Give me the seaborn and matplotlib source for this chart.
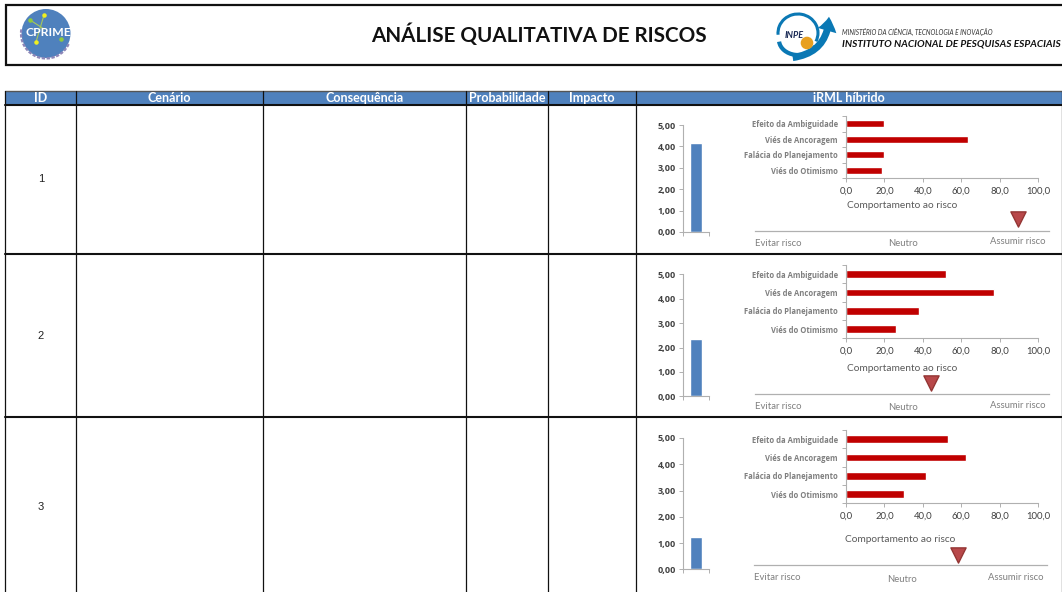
import matplotlib

matplotlib.use("Agg")
import matplotlib.pyplot as plt
from matplotlib.patches import Arc, Circle, FancyArrowPatch, Rectangle
import pandas as pd
import seaborn as sns

W, H = 1062, 592

title = "ANÁLISE QUALITATIVA DE RISCOS"
columns = ["ID", "Cenário", "Consequência", "Probabilidade", "Impacto", "iRML híbrido"]
scenario_ids = ["1", "2", "3"]
biases = ["Efeito da Ambiguidade", "Viés de Ancoragem", "Falácia do Planejamento", "Viés do Otimismo"]
bias_values = [
    [20.0, 63.5, 20.0, 19.0],
    [52.0, 77.0, 38.0, 26.0],
    [53.0, 62.5, 41.5, 30.0],
]
irml_values = [4.14, 2.36, 1.23]
risk_positions = [89.5, 59.7, 69.8]
irml_ticks = [0, 1, 2, 3, 4, 5]
bias_ticks = [0, 20, 40, 60, 80, 100]

BLUE = "#4f81bd"
RED = "#c00000"
GREY = "#7f7f7f"
LINE = "#b0b0b0"

# pixel layout of the sheet
col_x = [5, 76, 263, 466, 548, 636, 1062]
row_y = [105, 254, 417]
id_y = [179, 336, 507]
irml_box = [(125, 232), (274.3, 396.3), (438, 569.3)]
bias_box = [(116, 178), (265, 338.3), (430, 503.3)]
risk_y = [230.7, 394, 565.3]
risk_x = [(755, 1049), (755, 1049), (753.7, 1046.7)]
marker_y = [219, 382, 555]
comport_xy = [(847, 206), (847, 368.3), (845.3, 540)]
evitar_y = [243, 406.7, 577.7]
neutro_xy = [(903, 244), (903, 407.7), (901.7, 579.3)]
assumir_xy = [(1046, 242), (1046, 405.7), (1044, 577)]

sns.set_theme(style="white")
plt.rcParams["font.family"] = ["Lato", "DejaVu Sans"]


def pixel_axes(fig, left, right, top, bottom):
    return fig.add_axes([left / W, 1 - bottom / H, (right - left) / W, (bottom - top) / H])


def fmt_dec(v, places):
    return f"{v:.{places}f}".replace(".", ",")


def draw_sheet(ax):
    ax.set_xlim(0, W)
    ax.set_ylim(H, 0)
    ax.axis("off")

    ax.add_patch(Rectangle((5.5, 4.5), W, 60, fc="white", ec="#111111", lw=1.6))
    ax.text(539, 35, title, ha="center", va="center", fontsize=14.9, fontweight="bold", color="#111111")

    # table header
    ax.add_patch(Rectangle((5, 91), W - 5, 14, fc=BLUE, ec="none"))
    ax.plot([5, W], [91, 91], color="#555555", lw=1)
    for i, name in enumerate(columns):
        ax.text((col_x[i] + col_x[i + 1]) / 2, 98.3, name, ha="center", va="center",
                fontsize=9, fontweight="bold", color="white")
    for x in col_x:
        ax.plot([x - 0.5, x - 0.5], [91, H], color="#111111", lw=0.9)
    for y in row_y:
        ax.plot([5, W], [y, y], color="#111111", lw=1.5)
    for y, label in zip(id_y, scenario_ids):
        ax.text(41, y, label, ha="center", va="center", fontsize=8, family="Liberation Sans", color="#222222")


def draw_logos(ax):
    # CPRIME
    ax.add_patch(Circle((46, 33.5), 24.5, fc=BLUE, ec="none"))
    ax.add_patch(Arc((46, 33.5), 50, 50, theta1=25, theta2=190, ec="#8d86b8", lw=1.6, ls=(0, (1.5, 0.7))))
    ax.plot([44, 36], [15, 42], color="#a8c85a", lw=0.8)
    ax.plot([30, 44], [20, 29], color="#a8c85a", lw=0.8)
    ax.scatter([44, 36], [15, 42], s=5, color="#f0f020", zorder=3)
    ax.scatter([30, 61], [20, 39], s=5, color="#8fca3c", zorder=3)
    ax.text(48.5, 32, "CPRIME", ha="center", va="center", fontsize=8.8, color="white", fontweight="bold", zorder=4)

    # INPE
    ax.add_patch(Arc((798, 33), 40, 38, theta1=175, theta2=25, ec="#0a78b4", lw=2.2))
    ax.add_patch(Arc((798, 40), 38, 30, theta1=20, theta2=175, ec="#0a78b4", lw=3))
    ax.add_patch(FancyArrowPatch((790, 58), (829, 14), connectionstyle="arc3,rad=0.45", arrowstyle="simple,head_width=14,head_length=10,tail_width=5",
                                 fc="#0a78b4", ec="none"))
    ax.add_patch(Circle((807, 43), 6.3, fc="#e8a020", ec="none", zorder=4))
    ax.text(794, 36, "INPE", ha="center", va="center", fontsize=6.5, fontstyle="italic", fontweight="bold", color="#1a2a55", zorder=5)
    ax.text(842, 32, "MINISTÉRIO DA CIÊNCIA, TECNOLOGIA E INOVAÇÃO", ha="left", va="center", fontsize=4.7,
            fontstyle="italic", color="#333333")
    ax.text(842, 44, "INSTITUTO NACIONAL DE PESQUISAS ESPACIAIS", ha="left", va="center", fontsize=7.25,
            fontstyle="italic", fontweight="bold", color="#111111")


def draw_irml(ax, value):
    df = pd.DataFrame({"grupo": ["iRML"], "valor": [value]})
    sns.barplot(data=df, x="grupo", y="valor", color=BLUE, saturation=1, width=0.46, ax=ax)
    ax.set_xlim(-0.5, 0.5)
    ax.set_ylim(0, 5)
    ax.set_yticks(irml_ticks)
    ax.set_yticklabels([fmt_dec(t, 2) for t in irml_ticks], fontsize=6.5, fontweight="bold", family="Open Sans", color="#404040")
    ax.set_xticks([-0.5, 0.5])
    ax.set_xticklabels(["", ""])
    ax.set_xlabel("")
    ax.set_ylabel("")
    ax.tick_params(axis="both", length=3, width=0.7, color=LINE, pad=2, left=True, bottom=True)
    sns.despine(ax=ax)
    for s in ["left", "bottom"]:
        ax.spines[s].set_color(LINE)
        ax.spines[s].set_linewidth(0.8)


def draw_bias(ax, values):
    df = pd.DataFrame({"vies": biases, "valor": values})
    sns.barplot(data=df, x="valor", y="vies", color=RED, saturation=1, width=0.42, orient="h", ax=ax)
    ax.set_xlim(0, 100)
    ax.set_ylim(3.5, -0.5)
    ax.set_xticks(bias_ticks)
    ax.set_xticklabels([fmt_dec(t, 1) for t in bias_ticks], fontsize=6.8, color="#404040")
    ax.set_yticks(range(len(biases)))
    ax.set_yticklabels(biases, fontsize=5.5, fontweight="bold", family="Open Sans", color=GREY)
    ax.set_yticks([-0.5, 0.5, 1.5, 2.5, 3.5], minor=True)
    ax.set_xlabel("")
    ax.set_ylabel("")
    ax.tick_params(axis="y", which="major", length=0, pad=6, left=False)
    ax.tick_params(axis="y", which="minor", length=3, width=0.7, color=LINE, left=True)
    ax.tick_params(axis="x", length=3, width=0.7, color=LINE, pad=3, bottom=True)
    sns.despine(ax=ax)
    for s in ["left", "bottom"]:
        ax.spines[s].set_color(LINE)
        ax.spines[s].set_linewidth(0.8)


def draw_risk(ax, position):
    ax.set_xlim(0, 100)
    ax.set_ylim(0, 1)
    ax.patch.set_alpha(0)
    ax.set_yticks([])
    ax.set_xticks([])
    sns.despine(ax=ax, left=True)
    ax.spines["bottom"].set_color(LINE)
    ax.spines["bottom"].set_linewidth(0.9)
    ax.scatter([position], [0.5], marker="v", s=120, color="#b8484a", edgecolor="#943634", linewidth=1, clip_on=False, zorder=3)


fig = plt.figure(figsize=(W / 100, H / 100), dpi=100, facecolor="white")
sheet = fig.add_axes([0, 0, 1, 1])
draw_sheet(sheet)
draw_logos(sheet)

for i in range(len(scenario_ids)):
    top, bottom = irml_box[i]
    draw_irml(pixel_axes(fig, 683, 709, top, bottom), irml_values[i])

    top, bottom = bias_box[i]
    draw_bias(pixel_axes(fig, 846, 1038, top, bottom), bias_values[i])

    left, right = risk_x[i]
    draw_risk(pixel_axes(fig, left, right, marker_y[i] - 11, risk_y[i]), risk_positions[i])

    sheet.text(comport_xy[i][0], comport_xy[i][1], "Comportamento ao risco", ha="left", va="center", fontsize=7.3, color="#595959")
    sheet.text(left, evitar_y[i], "Evitar risco", ha="left", va="center", fontsize=6.8, color=GREY)
    sheet.text(neutro_xy[i][0], neutro_xy[i][1], "Neutro", ha="center", va="center", fontsize=6.8, color=GREY)
    sheet.text(assumir_xy[i][0], assumir_xy[i][1], "Assumir risco", ha="right", va="center", fontsize=6.8, color=GREY)

fig.savefig("out.png", dpi=100)
plt.close(fig)
